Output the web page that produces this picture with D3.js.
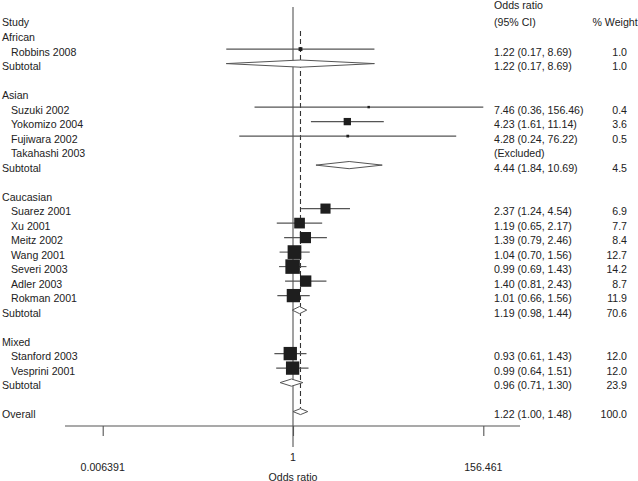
<!DOCTYPE html>
<html>
<head>
<meta charset="utf-8">
<script src="https://cdn.jsdelivr.net/npm/d3@7"></script>
<style>
  body { margin: 0; background: #fff; }
  text { font-family: "Liberation Sans", Arial, Helvetica, sans-serif; font-size: 10.6px; fill: #222; }
</style>
</head>
<body>
<div id="chart"></div>
<script>
// forest plot data, one entry per row (blank rows are spacers)
var rowLabel = ["African", "Robbins 2008", "Subtotal", "",
  "Asian", "Suzuki 2002", "Yokomizo 2004", "Fujiwara 2002", "Takahashi 2003", "Subtotal", "",
  "Caucasian", "Suarez 2001", "Xu 2001", "Meitz 2002", "Wang 2001", "Severi 2003", "Adler 2003", "Rokman 2001", "Subtotal", "",
  "Mixed", "Stanford 2003", "Vesprini 2001", "Subtotal", "",
  "Overall"];
var rowKind = ["group", "study", "subtotal", "blank",
  "group", "study", "study", "study", "excluded", "subtotal", "blank",
  "group", "study", "study", "study", "study", "study", "study", "study", "subtotal", "blank",
  "group", "study", "study", "subtotal", "blank",
  "overall"];
var oddsRatio = [null, 1.22, 1.22, null,
  null, 7.46, 4.23, 4.28, null, 4.44, null,
  null, 2.37, 1.19, 1.39, 1.04, 0.99, 1.40, 1.01, 1.19, null,
  null, 0.93, 0.99, 0.96, null,
  1.22];
var ciLow = [null, 0.17, 0.17, null,
  null, 0.36, 1.61, 0.24, null, 1.84, null,
  null, 1.24, 0.65, 0.79, 0.70, 0.69, 0.81, 0.66, 0.98, null,
  null, 0.61, 0.64, 0.71, null,
  1.00];
var ciHigh = [null, 8.69, 8.69, null,
  null, 156.46, 11.14, 76.22, null, 10.69, null,
  null, 4.54, 2.17, 2.46, 1.56, 1.43, 2.43, 1.56, 1.44, null,
  null, 1.43, 1.51, 1.30, null,
  1.48];
var weight = [null, 1.0, 1.0, null,
  null, 0.4, 3.6, 0.5, null, 4.5, null,
  null, 6.9, 7.7, 8.4, 12.7, 14.2, 8.7, 11.9, 70.6, null,
  null, 12.0, 12.0, 23.9, null,
  100.0];
var tickVals = [0.006391, 1, 156.461];
var tickLabels = ["0.006391", "1", "156.461"];

var W = 638, H = 481;
var rowStep = 14.5, firstRow = 34.6;   // mark centre of first data row
var svg = d3.select("#chart").append("svg")
    .attr("width", W).attr("height", H);

var x = d3.scaleLog().domain([0.006391, 156.461]).range([102.7, 483.3]);
var rows = rowLabel.map(function(l, i) {
  return { label: l, kind: rowKind[i], or: oddsRatio[i], lo: ciLow[i], hi: ciHigh[i], w: weight[i],
           y: firstRow + i * rowStep };
});
var lastY = rows[rows.length - 1].y;
var axisY = 426;

// header
svg.append("text").attr("x", 2).attr("y", 25.5).text("Study");
svg.append("text").attr("x", 494).attr("y", 8.5).text("Odds ratio");
svg.append("text").attr("x", 494).attr("y", 25.5).text("(95% CI)");
svg.append("text").attr("x", 592.5).attr("y", 25.5).text("% Weight");

// null line and overall dashed line
svg.append("line")
    .attr("x1", x(1)).attr("x2", x(1)).attr("y1", 7).attr("y2", 447)
    .attr("stroke", "#555").attr("stroke-width", 1.1);
svg.append("line")
    .attr("x1", x(oddsRatio[oddsRatio.length - 1])).attr("x2", x(oddsRatio[oddsRatio.length - 1]))
    .attr("y1", 31).attr("y2", lastY - 3)
    .attr("stroke", "#333").attr("stroke-width", 1.1).attr("stroke-dasharray", "5,3");

// labels
svg.append("g").selectAll("text").data(rows.filter(d => d.label)).enter()
  .append("text")
    .attr("x", d => d.kind == "study" || d.kind == "excluded" ? 11 : 2)
    .attr("y", d => d.y + 6.7)
    .text(d => d.label);

svg.append("g").selectAll("text").data(rows.filter(d => d.kind != "group" && d.kind != "blank")).enter()
  .append("text")
    .attr("x", 494)
    .attr("y", d => d.y + 6.7)
    .text(d => d.kind == "excluded" ? "(Excluded)"
      : d.or.toFixed(2) + " (" + d.lo.toFixed(2) + ", " + d.hi.toFixed(2) + ")");

svg.append("g").selectAll("text").data(rows.filter(d => d.w != null)).enter()
  .append("text")
    .attr("x", 627).attr("text-anchor", "end")
    .attr("y", d => d.y + 6.7)
    .text(d => d.w.toFixed(1));

// study CIs and weight squares
var studies = rows.filter(d => d.kind == "study");
svg.append("g").selectAll("line").data(studies).enter()
  .append("line")
    .attr("x1", d => x(d.lo)).attr("x2", d => x(d.hi))
    .attr("y1", d => d.y).attr("y2", d => d.y)
    .attr("stroke", "#555").attr("stroke-width", 1.1);
svg.append("g").selectAll("rect").data(studies).enter()
  .append("rect")
    .attr("x", d => x(d.or) - 1.925 * Math.sqrt(d.w))
    .attr("y", d => d.y - 1.925 * Math.sqrt(d.w))
    .attr("width", d => 3.85 * Math.sqrt(d.w))
    .attr("height", d => 3.85 * Math.sqrt(d.w))
    .attr("fill", "#1e1e1e");

// pooled diamonds
svg.append("g").selectAll("path").data(rows.filter(d => d.kind == "subtotal" || d.kind == "overall")).enter()
  .append("path")
    .attr("d", d => {
      var h = d.kind == "overall" ? 3 : 3.6;
      return "M" + x(d.lo) + "," + d.y + "L" + x(d.or) + "," + (d.y - h) +
             "L" + x(d.hi) + "," + d.y + "L" + x(d.or) + "," + (d.y + h) + "Z";
    })
    .attr("fill", "#fff").attr("stroke", "#555").attr("stroke-width", 1);

// axis
svg.append("line").attr("x1", 65).attr("x2", 520).attr("y1", axisY).attr("y2", axisY)
    .attr("stroke", "#555").attr("stroke-width", 1.1);
var ax = d3.axisBottom(x).tickValues(tickVals).tickSize(10).tickSizeOuter(0).tickFormat("");
var axG = svg.append("g").attr("transform", "translate(0," + axisY + ")").call(ax);
axG.select(".domain").remove();
axG.selectAll("line").attr("stroke", "#555").attr("stroke-width", 1.1);

svg.append("g").selectAll("text").data(tickVals).enter()
  .append("text")
    .attr("x", d => x(d)).attr("text-anchor", "middle")
    .attr("y", d => d == 1 ? 461 : 471)
    .text((d, i) => tickLabels[i]);
svg.append("text").attr("x", x(1)).attr("y", 480.5).attr("text-anchor", "middle").text("Odds ratio");
</script>
</body>
</html>
